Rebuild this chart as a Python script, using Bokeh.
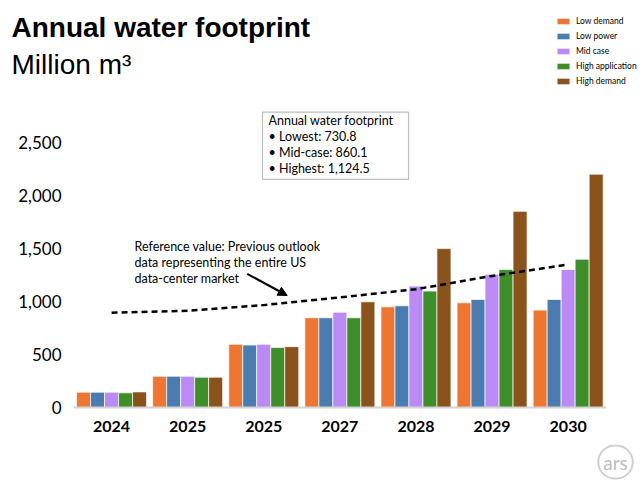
from bokeh.plotting import figure
from bokeh.models import (Range1d, FixedTicker, NumeralTickFormatter, Label, Arrow,
                          NormalHead, Legend, LegendItem)
from bokeh.embed import file_html
from bokeh.resources import INLINE

# ---------------- data ----------------
year_labels = ["2024", "2025", "2025", "2027", "2028", "2029", "2030"]
series_names = ["Low demand", "Low power", "Mid case", "High application", "High demand"]
series_colors = ["#EE7633", "#4A7CB0", "#BC8AF4", "#3E8E2A", "#8A531C"]

low_demand = [144, 294, 595, 845, 948, 986, 917]
low_power = [144, 294, 588, 845, 958, 1017, 1017]
mid_case = [144, 294, 595, 897, 1143, 1255, 1299]
high_application = [138, 285, 566, 845, 1096, 1299, 1396]
high_demand = [147, 285, 573, 995, 1496, 1847, 2197]

reference_value = [892, 911, 964, 1036, 1114, 1239, 1346]

y_ticks = [0, 500, 1000, 1500, 2000, 2500]

title_text = "Annual water footprint"
subtitle_text = "Million m\u00b3"
box_lines = ["Annual water footprint", "\u2022  Lowest: 730.8", "\u2022  Mid-case: 860.1",
             "\u2022  Highest: 1,124.5"]
note_lines = ["Reference value: Previous outlook", "data representing the entire US",
              "data-center market"]

# ---------------- layout ----------------
W = 640
TOP_H, MAIN_H, BOT_H = 100, 344, 36
FL, FB = 73, 407                 # main frame left / bottom (page px)
PXU = 76.1                       # px per category
PYU = 0.1062                     # px per million m3
X0 = -0.5
X1 = X0 + (W - FL) / PXU
Y1 = (FB - TOP_H) / PYU


def rx(px):
    return X0 + (px - FL) / PXU


def ry(py):
    return (FB - py) / PYU


def clean(fig):
    fig.outline_line_color = None
    fig.background_fill_color = "white"
    fig.border_fill_color = "white"
    fig.grid.visible = False


# ---- top panel: title, subtitle, legend ----
top = figure(width=W, height=TOP_H, output_backend="svg", toolbar_location=None, title=None,
             x_range=Range1d(0, W), y_range=Range1d(TOP_H, 0),
             min_border=0, x_axis_type=None, y_axis_type=None)
clean(top)

legend_items = []
for name, col in zip(series_names, series_colors):
    # legend swatch proxies, placed off-canvas
    r = top.vbar(x=[-1000], top=[0], width=1, fill_color=col,
                 line_color="white", line_width=0.7)
    legend_items.append(LegendItem(label=name, renderers=[r]))
legend = Legend(items=legend_items, location=(555, 14), orientation="vertical",
                glyph_width=16, glyph_height=8, label_height=10, spacing=5,
                padding=0, margin=0, border_line_color=None, background_fill_alpha=0,
                label_standoff=5, label_text_font="Lato",
                label_text_font_size="8.5px", label_text_color="black")
top.add_layout(legend)

top.add_layout(Label(x=11, y=26.7, text=title_text,
                     text_font="Liberation Sans", text_font_style="bold",
                     text_font_size="28px", text_color="black", text_baseline="alphabetic"))
top.add_layout(Label(x=11, y=64, text=subtitle_text,
                     text_font="Liberation Sans", text_font_size="28px",
                     text_color="black", text_baseline="alphabetic"))

# ---- main chart ----
p = figure(width=W, height=MAIN_H, output_backend="svg", toolbar_location=None, title=None,
           x_range=Range1d(X0, X1), y_range=Range1d(0, Y1),
           min_border_left=FL, min_border_right=0, min_border_top=0,
           min_border_bottom=MAIN_H - (FB - TOP_H))
clean(p)

xs = list(range(len(year_labels)))
bw = 0.92 / len(series_names)
all_series = [low_demand, low_power, mid_case, high_application, high_demand]
for i, (vals, col) in enumerate(zip(all_series, series_colors)):
    off = (i - 2) * bw
    p.vbar(x=[x + off for x in xs], top=vals, width=bw, bottom=0,
           fill_color=col, line_color="white", line_width=0.7)

p.line(xs, reference_value, line_color="black", line_width=2.5, line_dash="6 4")

p.xaxis.ticker = FixedTicker(ticks=xs)
p.xaxis.major_label_overrides = {i: l for i, l in enumerate(year_labels)}
p.xaxis.bounds = (X0, len(year_labels) - 0.5)
p.xaxis.axis_line_color = "#d4d4d4"
p.xaxis.axis_line_width = 2
p.xaxis.major_tick_line_color = None
p.xaxis.minor_tick_line_color = None
p.xaxis.major_tick_out = 0
p.xaxis.major_tick_in = 0
p.xaxis.minor_tick_out = 0
p.xaxis.major_label_text_font = "Lato"
p.xaxis.major_label_text_font_style = "bold"
p.xaxis.major_label_text_font_size = "16px"
p.xaxis.major_label_text_color = "black"
p.xaxis.major_label_standoff = 13

p.yaxis.ticker = FixedTicker(ticks=y_ticks)
p.yaxis.formatter = NumeralTickFormatter(format="0,0")
p.yaxis.axis_line_color = None
p.yaxis.major_tick_line_color = None
p.yaxis.minor_tick_line_color = None
p.yaxis.major_tick_out = 0
p.yaxis.major_tick_in = 0
p.yaxis.minor_tick_out = 0
p.yaxis.major_label_text_font = "Lato"
p.yaxis.major_label_text_font_size = "17px"
p.yaxis.major_label_text_color = "black"
p.yaxis.major_label_standoff = 12

# info box
p.add_layout(Label(x=rx(262), y=ry(111.7), text="\n".join(box_lines),
                   text_font="Lato", text_font_size="12.5px", text_color="black",
                   text_align="left", text_baseline="top", text_line_height=1.07,
                   border_line_color="#bdbdbd", border_line_width=1.2,
                   background_fill_color="white",
                   padding=dict(left=6, right=15, top=1, bottom=3)))

# reference note + arrow
p.add_layout(Label(x=rx(134), y=ry(238), text="\n".join(note_lines),
                   text_font="Lato", text_font_size="12.5px", text_color="black",
                   text_align="left", text_baseline="top", text_line_height=1.07))
p.add_layout(Arrow(x_start=rx(246.7), y_start=ry(273.3), x_end=rx(286.7), y_end=ry(295),
                   line_color="black", line_width=2,
                   end=NormalHead(size=9, fill_color="black", line_color="black")))

# ---- bottom strip: ars logo ----
bot = figure(width=W, height=BOT_H, output_backend="svg", toolbar_location=None, title=None,
             x_range=Range1d(0, W), y_range=Range1d(TOP_H + MAIN_H + BOT_H, TOP_H + MAIN_H),
             min_border=0, x_axis_type=None, y_axis_type=None)
clean(bot)
bot.add_layout(Label(x=615, y=461.5, text="ars", text_font="Lato",
                     text_font_size="19px", text_color="#bdbdbd",
                     text_align="center", text_baseline="middle",
                     border_line_color="#cfcfcf", border_line_width=2,
                     border_radius=17, padding=dict(left=5, right=5, top=5, bottom=5)))

# separate roots, stacked vertically (keeps each frame independent)
open("out.html", "w").write(file_html([top, p, bot], INLINE))
